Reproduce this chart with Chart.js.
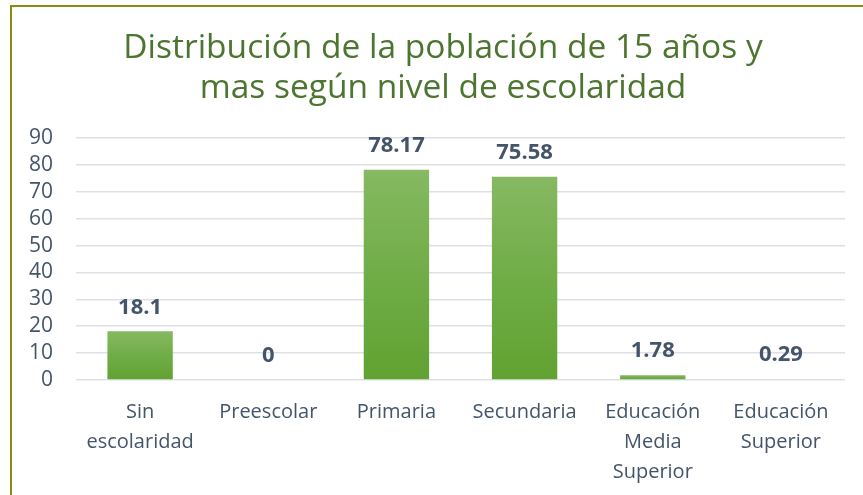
<!DOCTYPE html>
<html>
<head>
<meta charset="utf-8">
<script src="https://cdn.jsdelivr.net/npm/chart.js@4/dist/chart.umd.min.js"></script>
<style>
    html, body { margin: 0; padding: 0; background: #fff; overflow: hidden; }
    .frame {
        position: absolute;
        left: 10px;
        top: 5px;
        width: 2000px;
        height: 2000px;
        border-top: 2px solid #8c8c0c;
        border-left: 2px solid #8c8c0c;
    }
    .chart-box {
        position: absolute;
        left: 0;
        top: 0;
        width: 863px;
        height: 495px;
    }
</style>
</head>
<body>
<div class="frame"></div>
<div class="chart-box">
    <canvas id="barChart" width="863" height="495"></canvas>
</div>
<script>
const categories = [
    ['Sin', 'escolaridad'],
    'Preescolar',
    'Primaria',
    'Secundaria',
    ['Educación', 'Media', 'Superior'],
    ['Educación', 'Superior']
];
const values = [18.1, 0, 78.17, 75.58, 1.78, 0.29];
const valueLabels = ['18.1', '0', '78.17', '75.58', '1.78', '0.29'];
const titleLines = ['Distribución de la población de 15 años y', 'mas según nivel de escolaridad'];

const textColor = '#44546a';

// gradient per bar, light on top, darker at the base
function barGradient(context) {
    const chart = context.chart;
    const yScale = chart.scales.y;
    if (!chart.chartArea || !yScale) return '#70ad47';
    const v = context.raw || 0;
    const top = yScale.getPixelForValue(v);
    const base = yScale.getPixelForValue(0);
    if (base - top < 1) return '#70ad47';
    const g = chart.ctx.createLinearGradient(0, top, 0, base);
    g.addColorStop(0, '#86b962');
    g.addColorStop(0.5, '#70ad47');
    g.addColorStop(1, '#61a232');
    return g;
}

// title drawn by hand so it can sit a bit right of the canvas center
const titlePlugin = {
    id: 'titleText',
    afterDraw(chart) {
        const ctx = chart.ctx;
        ctx.save();
        ctx.font = '33.5px "Open Sans", sans-serif';
        ctx.fillStyle = '#4c7530';
        ctx.textAlign = 'center';
        ctx.textBaseline = 'alphabetic';
        ctx.fillText(titleLines[0], 443, 58);
        ctx.fillText(titleLines[1], 443, 98);
        ctx.restore();
    }
};

// draws the value above each bar
const valueLabelPlugin = {
    id: 'valueLabels',
    afterDatasetsDraw(chart) {
        const ctx = chart.ctx;
        const meta = chart.getDatasetMeta(0);
        ctx.save();
        ctx.font = 'bold 22px "Open Sans", sans-serif';
        ctx.fillStyle = textColor;
        ctx.textAlign = 'center';
        ctx.textBaseline = 'middle';
        meta.data.forEach((bar, i) => {
            ctx.fillText(valueLabels[i], bar.x, bar.y - 24);
        });
        ctx.restore();
    }
};

const barCtx = document.getElementById('barChart').getContext('2d');
const barChart = new Chart(barCtx, {
    type: 'bar',
    data: {
        labels: categories,
        datasets: [{
            data: values,
            backgroundColor: barGradient,
            borderWidth: 0,
            categoryPercentage: 1,
            barPercentage: 0.51
        }]
    },
    options: {
        responsive: false,
        animation: false,
        layout: {
            padding: { top: 138, left: 6, right: 18, bottom: -9 }
        },
        plugins: {
            legend: { display: false },
            tooltip: { enabled: false },
            title: { display: false }
        },
        scales: {
            x: {
                grid: { display: false, drawTicks: false },
                border: { display: false },
                ticks: {
                    color: textColor,
                    maxRotation: 0,
                    autoSkip: false,
                    padding: 17,
                    font: {
                        size: 20,
                        family: "'Open Sans', sans-serif",
                        lineHeight: '30px'
                    }
                }
            },
            y: {
                min: 0,
                max: 90,
                grid: {
                    color: '#dde1e7',
                    lineWidth: 1.5,
                    drawTicks: false
                },
                border: { display: false },
                ticks: {
                    stepSize: 10,
                    autoSkip: false,
                    color: textColor,
                    padding: 23,
                    font: {
                        size: 21,
                        family: "'Open Sans', sans-serif"
                    }
                }
            }
        }
    },
    plugins: [valueLabelPlugin, titlePlugin]
});
</script>
</body>
</html>
